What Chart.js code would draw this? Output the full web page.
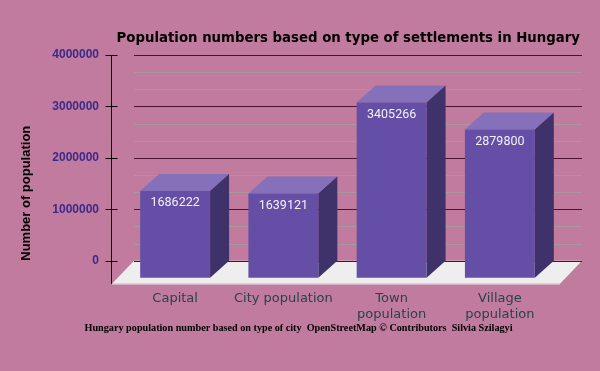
<!DOCTYPE html>
<html><head><meta charset="utf-8">
<script src="https://cdn.jsdelivr.net/npm/chart.js@4/dist/chart.umd.min.js"></script>
<style>html,body{margin:0;padding:0;background:#c17b9e;overflow:hidden;}</style>
</head><body>
<canvas id="c" width="600" height="371"></canvas>
<script>
// ---- data ----
const categories = ['Capital', 'City population', ['Town', 'population'], ['Village', 'population']];
const populationValues = [1686222, 1639121, 3405266, 2879800];
const yTickValues = [0, 1000000, 2000000, 3000000, 4000000];
const chartTitle = 'Population numbers based on type of settlements in Hungary';
const chartSubtitle = 'Hungary population number based on type of city  OpenStreetMap \u00A9 Contributors  Silvia Szilagyi';
const yAxisTitle = 'Number of population';

// ---- styles ----
const BG = '#c17b9e';
const FRONT = '#654fa6';
const SIDE = '#3f3169';
const TOP = '#8571ba';
const FLOOR = '#eeeeee';
const MAJOR = '#4e1030';
const MINOR = '#a8979f';
const DX = 19, DY = 17;

// minor grid values at thirds between major ticks
const minorValues = [];
for (let i = 0; i < yTickValues.length - 1; i++) {
  const a = yTickValues[i], b = yTickValues[i + 1];
  minorValues.push(a + (b - a) / 3, a + 2 * (b - a) / 3);
}

const threeD = {
  id: 'threeD',
  beforeDraw(chart) {
    const ctx = chart.ctx;
    ctx.save();
    ctx.fillStyle = BG;
    ctx.fillRect(0, 0, chart.width, chart.height);
    ctx.restore();
  },
  beforeDatasetsDraw(chart) {
    const ctx = chart.ctx, a = chart.chartArea, ys = chart.scales.y;
    ctx.save();
    // floor
    ctx.fillStyle = FLOOR;
    ctx.beginPath();
    ctx.moveTo(a.left - 6, a.bottom);
    ctx.lineTo(a.right + 9, a.bottom);
    ctx.lineTo(a.right - 13, a.bottom + 23);
    ctx.lineTo(a.left - 28, a.bottom + 23);
    ctx.closePath();
    ctx.fill();
    ctx.fillStyle = '#dcc3cf';
    ctx.fillRect(a.left - 28, a.bottom + 23, a.right - 13 - (a.left - 28), 1);
    // grid
    ctx.lineWidth = 1;
    ctx.strokeStyle = MINOR;
    minorValues.forEach(v => {
      const py = Math.round(ys.getPixelForValue(v)) + 0.5;
      ctx.beginPath(); ctx.moveTo(a.left - 6, py); ctx.lineTo(a.right + 9, py); ctx.stroke();
    });
    ctx.strokeStyle = MAJOR;
    yTickValues.forEach(v => {
      const py = Math.round(ys.getPixelForValue(v)) + 0.5;
      ctx.beginPath(); ctx.moveTo(a.left - 6, py); ctx.lineTo(a.right + 9, py); ctx.stroke();
    });
    // axis line + ticks
    const ax = a.left - 29 + 0.5;
    ctx.strokeStyle = '#000';
    ctx.beginPath(); ctx.moveTo(ax, ys.top); ctx.lineTo(ax, a.bottom + 23); ctx.stroke();
    yTickValues.forEach(v => {
      const py = Math.round(ys.getPixelForValue(v)) + 0.5;
      ctx.beginPath(); ctx.moveTo(ax - 6, py); ctx.lineTo(ax + 6, py); ctx.stroke();
    });
    // top and side faces
    const meta = chart.getDatasetMeta(0);
    meta.data.forEach(bar => {
      const p = bar.getProps(['x', 'y', 'base', 'width'], true);
      const bl = p.x - p.width / 2, br = p.x + p.width / 2;
      const fl = bl - DX, fr = br - DX, ft = p.y + DY, fb = p.base + DY;
      ctx.fillStyle = TOP;
      ctx.beginPath();
      ctx.moveTo(fl, ft); ctx.lineTo(fr, ft); ctx.lineTo(br, p.y); ctx.lineTo(bl, p.y);
      ctx.closePath(); ctx.fill();
      ctx.fillStyle = SIDE;
      ctx.beginPath();
      ctx.moveTo(fr, ft); ctx.lineTo(br, p.y); ctx.lineTo(br, p.base); ctx.lineTo(fr, fb);
      ctx.closePath(); ctx.fill();
    });
    ctx.restore();
    ctx.save();
    ctx.translate(-DX, DY);
  },
  afterDatasetsDraw(chart) {
    const ctx = chart.ctx;
    ctx.restore();
    ctx.save();
    ctx.fillStyle = '#f2f2f2';
    ctx.font = '12.5px Roboto';
    ctx.textAlign = 'center';
    ctx.textBaseline = 'middle';
    const meta = chart.getDatasetMeta(0);
    meta.data.forEach((bar, i) => {
      const p = bar.getProps(['x', 'y'], true);
      ctx.fillText(String(populationValues[i]), p.x - DX, p.y + DY + 12);
    });
    ctx.restore();
  }
};

new Chart(document.getElementById('c'), {
  type: 'bar',
  data: {
    labels: categories,
    datasets: [{
      data: populationValues,
      backgroundColor: FRONT,
      borderWidth: 0,
      barPercentage: 0.646,
      categoryPercentage: 1,
      clip: false
    }]
  },
  options: {
    responsive: false,
    animation: false,
    layout: { padding: { top: 0, left: 17, right: 20, bottom: 0 } },
    plugins: {
      legend: { display: false },
      tooltip: { enabled: false },
      title: {
        display: true, text: chartTitle, fullSize: true, align: 'end', color: '#000',
        font: { family: 'DejaVu Sans', weight: 'bold', size: 13.3 },
        padding: { top: 31, bottom: 8 }
      },
      subtitle: {
        display: true, text: chartSubtitle, position: 'bottom', fullSize: true, color: '#000',
        font: { family: 'Liberation Serif', weight: 'bold', size: 10.2 },
        padding: { top: 0, bottom: 37 }
      }
    },
    scales: {
      x: {
        grid: { display: false, drawTicks: false },
        border: { display: false },
        ticks: {
          color: '#27434d', padding: 29, labelOffset: -DX, maxRotation: 0, autoSkip: false,
          font: { family: 'DejaVu Sans', size: 13, lineHeight: 1.3 }
        },
        afterFit: s => { s.height = 61; }
      },
      y: {
        position: 'left', min: 0, max: 4000000,
        grid: { display: false, drawTicks: false },
        border: { display: false },
        afterBuildTicks: s => { s.ticks = yTickValues.map(v => ({ value: v })); },
        ticks: {
          color: '#3b2a8a', padding: 41,
          font: { family: 'Liberation Sans', weight: 'bold', size: 12 },
          callback: v => String(v)
        },
        title: {
          display: true, text: yAxisTitle, align: 'start', color: '#000',
          font: { family: 'Liberation Sans', weight: 'bold', size: 13 },
          padding: { top: 2, bottom: 0 }
        },
        afterFit: s => { s.width = 123; }
      },
      yR: {
        position: 'right', display: true, min: 0, max: 1,
        grid: { display: false, drawTicks: false },
        border: { display: false },
        ticks: { display: false },
        afterFit: s => { s.width = 7; }
      }
    }
  },
  plugins: [threeD]
});
</script>
</body></html>
